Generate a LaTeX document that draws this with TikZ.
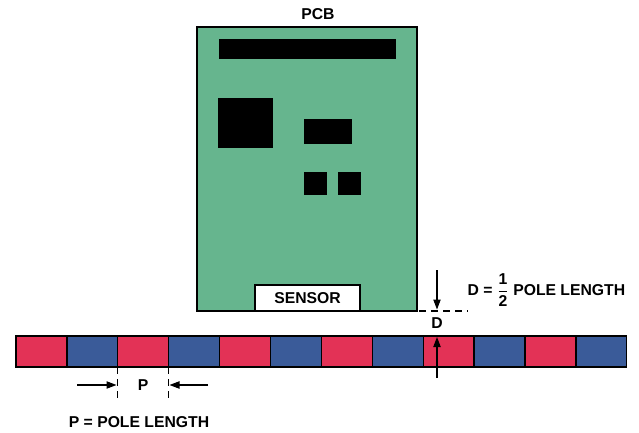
\documentclass[tikz,border=0pt]{standalone}
\usepackage{fontspec}
\setmainfont{Liberation Sans}
\usetikzlibrary{calc,arrows.meta,math}

\definecolor{pcbgreen}{RGB}{102,181,142}
\definecolor{polered}{RGB}{227,50,86}
\definecolor{poleblue}{RGB}{58,91,153}

\tikzset{
    lbl/.style={font=\bfseries\fontsize{11.8}{14}\selectfont, inner sep=0pt},
    chip/.style={fill=black},
    dim/.style={-{Triangle[length=7.5pt,width=5.5pt]}, thick},
    guide/.style={thick, dash pattern=on 5pt off 4pt},
}

\begin{document}
\begin{tikzpicture}[x=0.75pt, y=-0.75pt, line width=1pt]
    \tikzmath{ \w=50.9; }
    \useasboundingbox (0,0) rectangle (639,432);
    % board
    \draw[fill=pcbgreen] (197,27) rectangle (417,311);
    \node[lbl] (pcb) at (318,14) {PCB};
    \fill[chip] (219,39) rectangle (396,59);
    \fill[chip] (218,98) rectangle (273,148);
    \fill[chip] (304,119) rectangle (352,144);
    \fill[chip] (304,172) rectangle (327,195);
    \fill[chip] (338,172) rectangle (361,195);
    \draw[fill=white] (255,311) rectangle (360,285);
    \node[lbl] (sensor) at (307.5,298.5) {SENSOR};
    % magnet strip
    \foreach \i in {0,...,11} {
        \pgfmathsetmacro{\xa}{16+\i*\w}
        \ifodd\i \def\pc{poleblue}\else \def\pc{polered}\fi
        \draw[fill=\pc] (\xa,336) rectangle ++(\w,31);
    }
    % pole length
    \draw[guide] (117.5,367) -- (117.5,402);
    \draw[guide] (168.5,367) -- (168.5,402);
    \coordinate (PL) at (77,385);
    \coordinate (PR) at (208,385);
    \node[lbl] (p) at (143,385) {P};
    \draw[dim] (PL) -- (116.5,385);
    \draw[dim] (PR) -- (169.5,385);
    \node[lbl] (pdef) at (139,422) {P = POLE LENGTH};
    % gap
    \draw[guide] (419,311) -- (468,311);
    \coordinate (DT) at (437,270);
    \coordinate (DB) at (437,378);
    \draw[dim] (DT) -- (437,309.5);
    \draw[dim] (DB) -- (437,337);
    \node[lbl] (d) at (437,323.5) {D};
    \node[lbl, anchor=west] (ddef) at (467,290)
        {D = $\displaystyle\frac{\textbf{1}}{\textbf{2}}$ POLE LENGTH};
\end{tikzpicture}
\end{document}
